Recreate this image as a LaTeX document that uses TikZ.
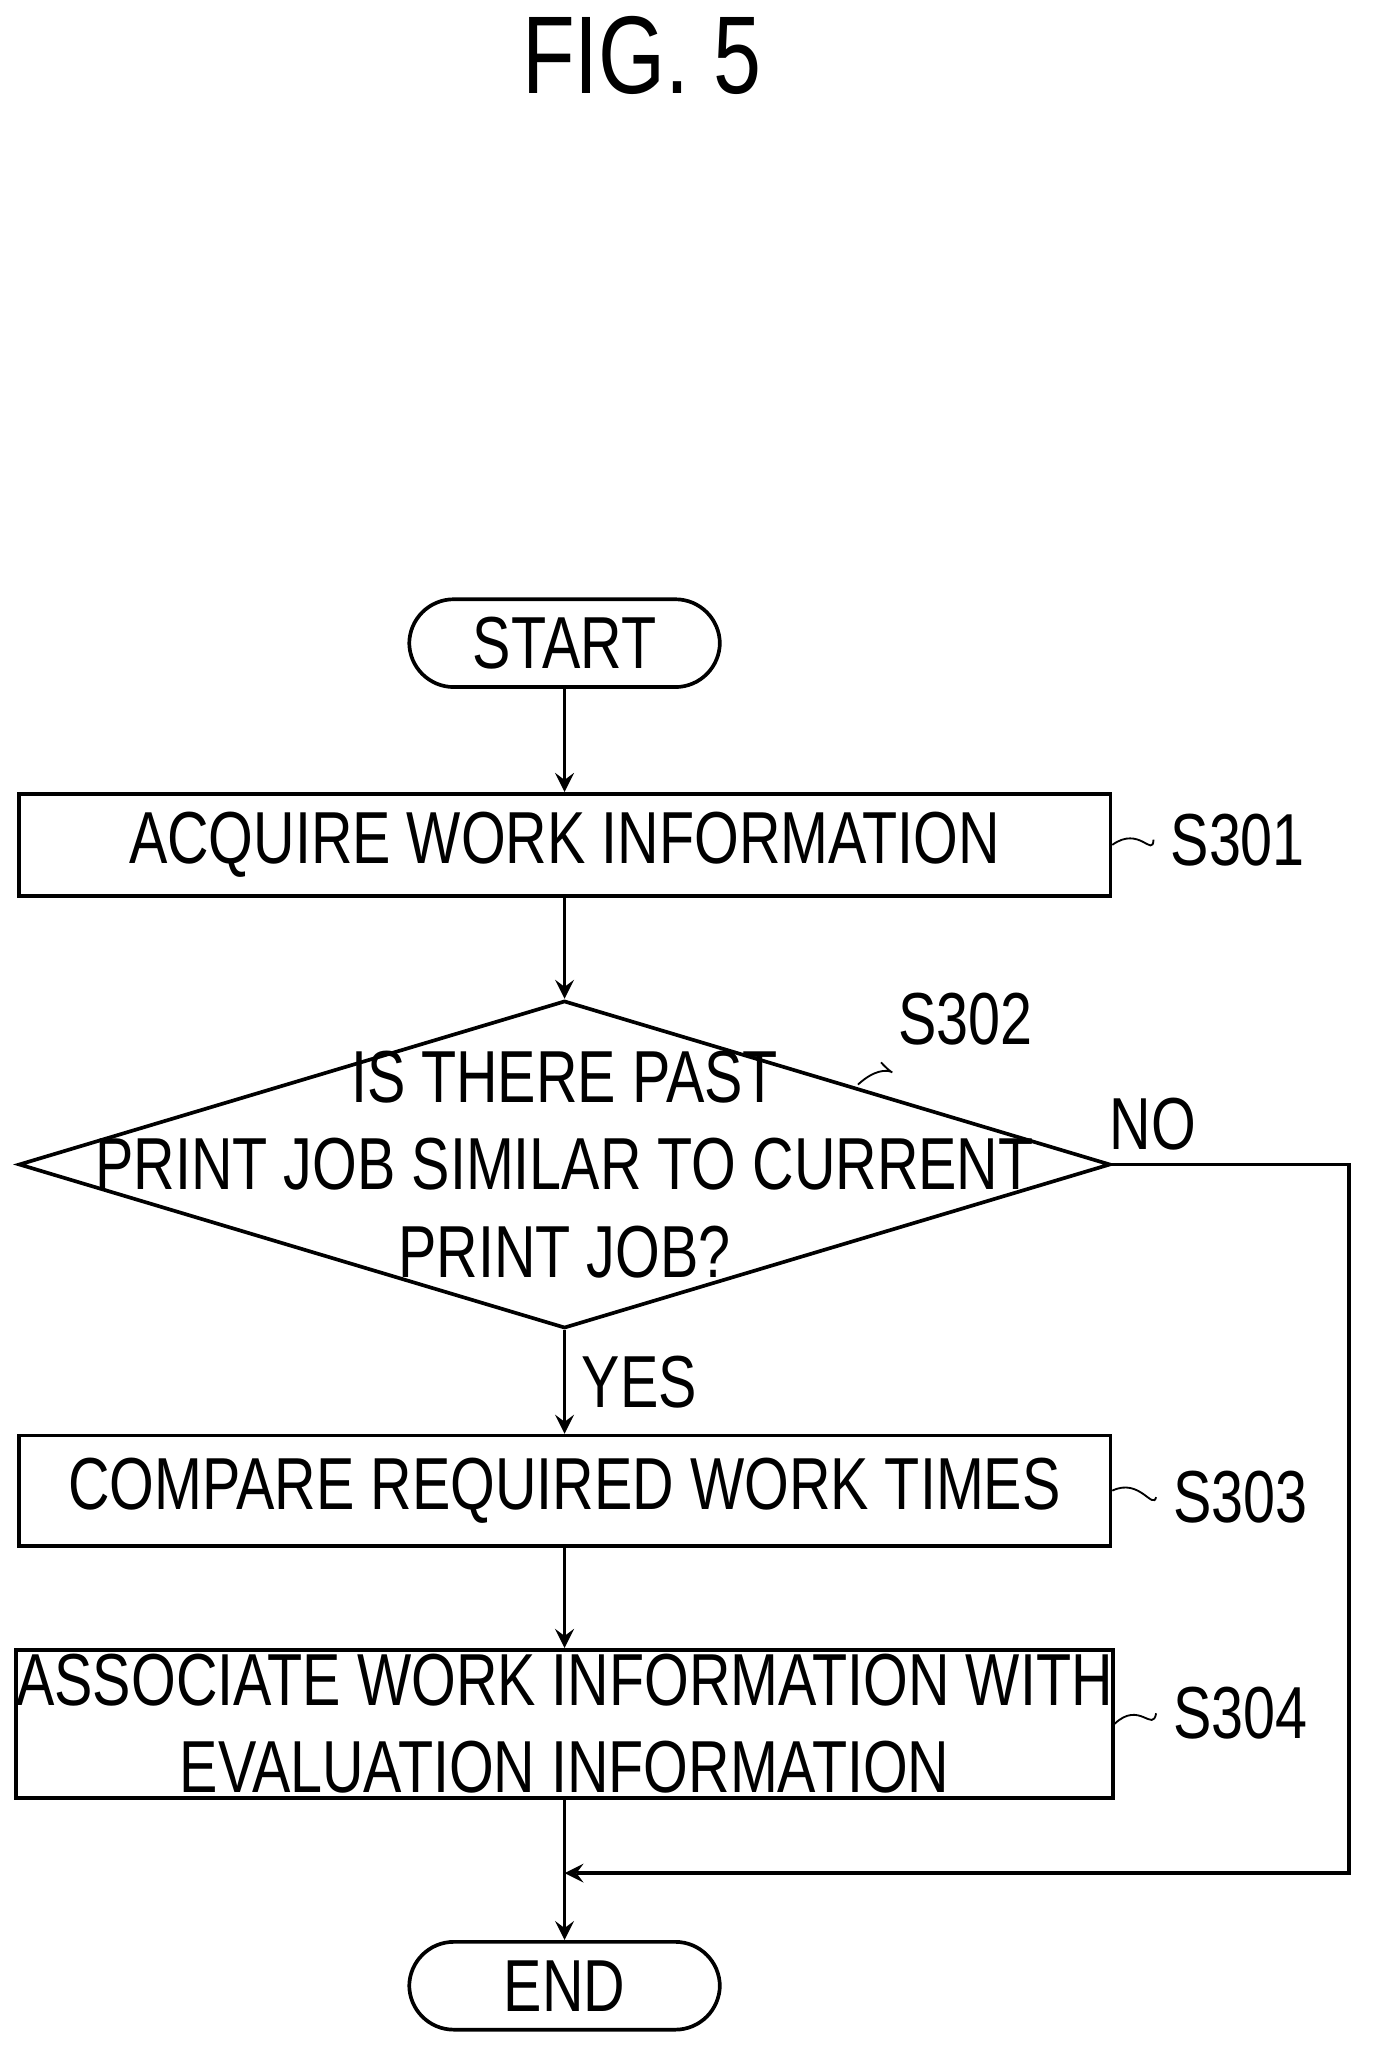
\documentclass[tikz,border=0pt]{standalone}
\usepackage{fontspec}
\setmainfont{Liberation Sans}[FakeStretch=0.78]
\usetikzlibrary{shapes.geometric,positioning}
\tikzstyle{box}=[rectangle,draw,thick,minimum width=8.33cm,inner sep=0pt,align=center,font=\fontsize{16}{19}\selectfont]
\tikzstyle{term}=[rectangle,rounded corners=0.34cm,draw,thick,minimum width=2.37cm,minimum height=0.67cm,font=\fontsize{16}{19}\selectfont]
\tikzstyle{dec}=[diamond,draw,thick,minimum width=8.33cm,minimum height=2.5cm,inner sep=0pt]
\tikzstyle{lbl}=[font=\fontsize{16}{19}\selectfont]
\tikzstyle{lead}=[thin]
\begin{document}
\begin{tikzpicture}[x=0.01cm,y=-0.01cm,>=stealth,thick]
\useasboundingbox (0,0) rectangle (1055,1562);
\node[font=\fontsize{24}{28}\selectfont] (fig) at (490,42) {FIG. 5};

% steps
\node[term] (start) at (431,491) {START};
\node[box,minimum height=0.78cm] (s301) at (431,645) {ACQUIRE WORK INFORMATION};
\node[dec] (s302) at (431,889) {};
\node[lbl,align=center] (q) at (431,889) {IS THERE PAST\\PRINT JOB SIMILAR TO CURRENT\\PRINT JOB?};
\node[box,minimum height=0.84cm] (s303) at (431,1138) {COMPARE REQUIRED WORK TIMES};
\node[box,minimum height=1.13cm] (s304) at (431,1316) {ASSOCIATE WORK INFORMATION WITH\\EVALUATION INFORMATION};
\node[term] (end) at (431,1516) {END};

% step labels
\node[lbl] (l301) at (945,641) {S301};
\node[lbl] (l302) at (737,778) {S302};
\node[lbl] (l303) at (947,1143) {S303};
\node[lbl] (l304) at (947,1308) {S304};
\draw[lead] (s301.east) .. controls (870,630) and (880,655) .. (l301.west);
\draw[lead] (655,828) .. controls (680,805) and (690,830) .. (l302.south west);
\draw[lead] (s303.east) .. controls (870,1128) and (880,1153) .. (l303.west);
\draw[lead] (s304.east) .. controls (870,1298) and (880,1323) .. (l304.west);

% connectors
\coordinate (c1) at (1030,889);
\coordinate (c2) at (1030,1430);
\coordinate (m) at (431,1430);
\draw[->] (start) -- (s301);
\draw[->] (s301) -- (s302.north);
\draw[->] (s302.south) -- node[lbl,right] {YES} (s303);
\draw[->] (s303) -- (s304);
\draw[->] (s304) -- (end);
\draw[->] (s302.east) -- (c1) -- (c2) -- (m);
\node[lbl] (no) at (880,858) {NO};
\end{tikzpicture}
\end{document}
